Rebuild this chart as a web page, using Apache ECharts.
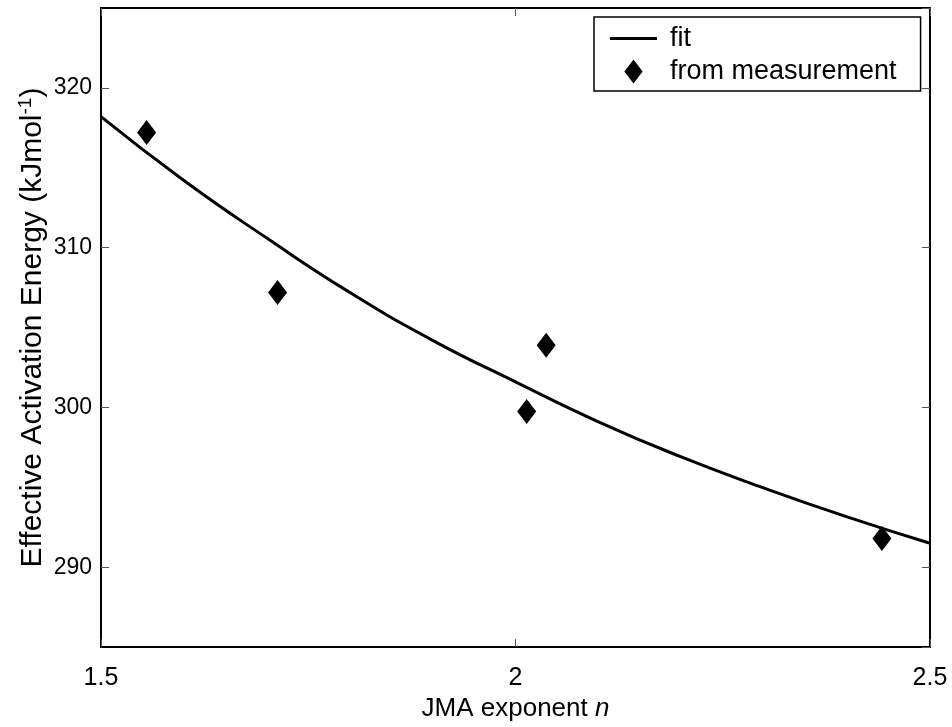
<!DOCTYPE html>
<html>
<head>
<meta charset="utf-8">
<script src="https://cdn.jsdelivr.net/npm/echarts@6/dist/echarts.min.js"></script>
<style>
  html, body { margin: 0; padding: 0; background: #fff; }
  #chart { width: 952px; height: 727px; }
</style>
</head>
<body>
<div id="chart"></div>
<script>
// Fitted curve of effective activation energy against the JMA exponent
const fitN = [1.5, 1.6, 1.7, 1.8, 1.9, 2.0, 2.1, 2.2, 2.3, 2.4, 2.5];
const fitE = [318.2, 314.2, 310.6, 307.2, 304.2, 301.6, 299.1, 296.9, 294.95, 293.15, 291.5];

// Values obtained from measurement
const measN = [1.555, 1.713, 2.0135, 2.037, 2.442];
const measE = [317.2, 307.2, 299.75, 303.9, 291.8];

// Axis ranges and ticks
const xTicks = [1.5, 2, 2.5];
const yTicks = [290, 300, 310, 320];
const xRange = [1.5, 2.5];
const yRange = [285, 325];

const FONT = '"Liberation Sans", Arial, Helvetica, sans-serif';

const chart = echarts.init(document.getElementById('chart'), null, { renderer: 'canvas' });

const frameLine = { show: true, onZero: false, lineStyle: { color: '#000', width: 2 } };
const innerTick = { show: true, inside: true, length: 8, lineStyle: { color: '#555', width: 1 } };

function baseX(pos) {
  return {
    type: 'value', position: pos, min: xRange[0], max: xRange[1],
    interval: xTicks[1] - xTicks[0],
    axisLine: frameLine, axisTick: innerTick, splitLine: { show: false }
  };
}
function baseY(pos) {
  return {
    type: 'value', position: pos, min: yRange[0], max: yRange[1],
    splitNumber: yTicks.length,
    axisLine: frameLine, axisTick: innerTick, splitLine: { show: false }
  };
}

const xBottom = Object.assign(baseX('bottom'), {
  name: 'JMA exponent {i|n}',
  nameLocation: 'middle',
  nameGap: 44,
  nameTextStyle: {
    fontFamily: FONT, fontSize: 26, color: '#000',
    rich: { i: { fontFamily: FONT, fontSize: 26, fontStyle: 'italic', color: '#000' } }
  },
  axisLabel: {
    show: true, margin: 19, fontFamily: FONT, fontSize: 25, color: '#000',
    formatter: v => (xTicks.some(t => Math.abs(t - v) < 1e-9) ? String(v) : '')
  }
});
const xTop = Object.assign(baseX('top'), { axisLabel: { show: false } });

const yLeft = Object.assign(baseY('left'), {
  name: 'Effective Activation Energy (kJmol{sup|-1})',
  nameLocation: 'middle',
  nameGap: 51,
  nameRotate: 90,
  nameMoveOverlap: false,
  nameTextStyle: {
    fontFamily: FONT, fontSize: 30, color: '#000',
    rich: {
      sup: { fontFamily: FONT, fontSize: 19, color: '#000', verticalAlign: 'bottom', padding: [0, 0, 15, 0] }
    }
  },
  axisLabel: {
    show: true, margin: 9, fontFamily: FONT, fontSize: 23, color: '#000',
    showMinLabel: false, showMaxLabel: false,
    formatter: v => (yTicks.includes(v) ? String(v) : '')
  }
});
const yRight = Object.assign(baseY('right'), { axisLabel: { show: false } });

const option = {
  backgroundColor: '#fff',
  animation: false,
  grid: { left: 101, right: 22, top: 8, bottom: 67, containLabel: false },
  legend: {
    orient: 'vertical',
    left: 594, top: 17,
    padding: [8, 24, 6, 16],
    itemGap: 6,
    itemWidth: 47,
    itemHeight: 24,
    symbolKeepAspect: true,
    borderColor: '#000', borderWidth: 1.5,
    backgroundColor: '#fff',
    textStyle: { fontFamily: FONT, fontSize: 27, color: '#000', padding: [0, 0, 0, 8] },
    data: [
      { name: 'fit', icon: 'path://M0,0L47,0L47,3L0,3Z', itemStyle: { color: '#000', opacity: 1 } },
      { name: 'from measurement', icon: 'path://M9.5,0L19,12.5L9.5,25L0,12.5Z', itemStyle: { color: '#000', opacity: 1 } }
    ]
  },
  xAxis: [xBottom, xTop],
  yAxis: [yLeft, yRight],
  series: [
    {
      name: 'fit', type: 'line', xAxisIndex: 0, yAxisIndex: 0,
      smooth: true, symbol: 'none', showSymbol: false,
      lineStyle: { color: '#000', width: 3 },
      itemStyle: { color: '#000' },
      data: fitN.map((n, i) => [n, fitE[i]]),
      z: 3
    },
    {
      name: 'from measurement', type: 'scatter', xAxisIndex: 0, yAxisIndex: 0,
      symbol: 'diamond', symbolSize: [19, 25],
      itemStyle: { color: '#000', opacity: 1 },
      data: measN.map((n, i) => [n, measE[i]]),
      z: 4
    }
  ]
};

chart.setOption(option);
</script>
</body>
</html>
